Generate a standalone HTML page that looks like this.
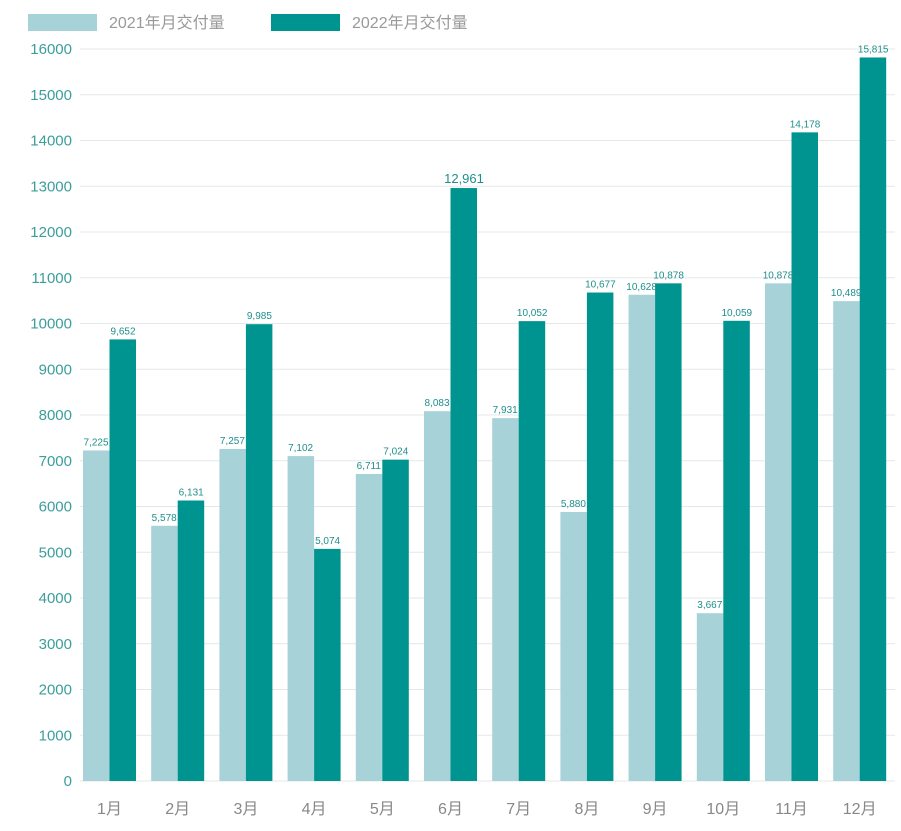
<!DOCTYPE html>
<html><head><meta charset="utf-8"><style>
body{margin:0;background:#fff;}
svg{display:block;font-family:"Liberation Sans","Noto Sans CJK SC",sans-serif;}
</style></head><body>
<svg id="c" width="901" height="831"></svg>
<script>
const categories=["1月","2月","3月","4月","5月","6月","7月","8月","9月","10月","11月","12月"];
const values2021=[7225,5578,7257,7102,6711,8083,7931,5880,10628,3667,10878,10489];
const values2022=[9652,6131,9985,5074,7024,12961,10052,10677,10878,10059,14178,15815];
const labels2021=["7,225","5,578","7,257","7,102","6,711","8,083","7,931","5,880","10,628","3,667","10,878","10,489"];
const labels2022=["9,652","6,131","9,985","5,074","7,024","12,961","10,052","10,677","10,878","10,059","14,178","15,815"];
const yTicks=[0,1000,2000,3000,4000,5000,6000,7000,8000,9000,10000,11000,12000,13000,14000,15000,16000];
const NS="http://www.w3.org/2000/svg";
const svg=document.getElementById('c');
const y0=781,pxPer=732/16000;
function y(v){return y0-v*pxPer;}
function x(i){return 83+i*68.2;}
function el(t,a,txt){const e=document.createElementNS(NS,t);for(const k in a)e.setAttribute(k,a[k]);if(txt!=null)e.textContent=txt;svg.appendChild(e);return e;}
yTicks.forEach(v=>{
 const g=el('line',{x1:80,x2:895,y1:y(v),y2:y(v),stroke:'#e4e8e8','stroke-width':1});
 
 
 const t=el('text',{x:72,y:y(v)+5,'text-anchor':'end','font-size':15,fill:'#3a9e9b'},v);
 
 
});
categories.forEach((c,i)=>{
 const a=el('rect',{x:x(i),y:y(values2021[i]),width:26.5,height:values2021[i]*pxPer,fill:'#a6d2d8'});
 
 
 const b=el('rect',{x:x(i)+26.5,y:y(values2022[i]),width:26.5,height:values2022[i]*pxPer,fill:'#009490'});
 
 
 const l1=el('text',{x:x(i)+13,y:y(values2021[i])-5,'text-anchor':'middle','font-size':10,fill:'#1f8f8c'},labels2021[i]);
 
 
 const big=i===5;
 const l2=el('text',{x:x(i)+40,y:y(values2022[i])-5,'text-anchor':'middle','font-size':big?13:10,fill:'#1f8f8c'},labels2022[i]);
 
 
 const xt=el('text',{x:x(i)+26.5,y:814,'text-anchor':'middle','font-size':16,fill:'#888'},c);
 
 
});
const lg=[[28,'#a6d2d8','2021年月交付量'],[271,'#009490','2022年月交付量']];
lg.forEach(d=>{
 const r=el('rect',{x:d[0],y:14,width:69,height:17,fill:d[1]});
 
 
 const t=el('text',{x:d[0]+81,y:28,'font-size':16,fill:'#999'},d[2]);
 
 
});
</script>
</body></html>
